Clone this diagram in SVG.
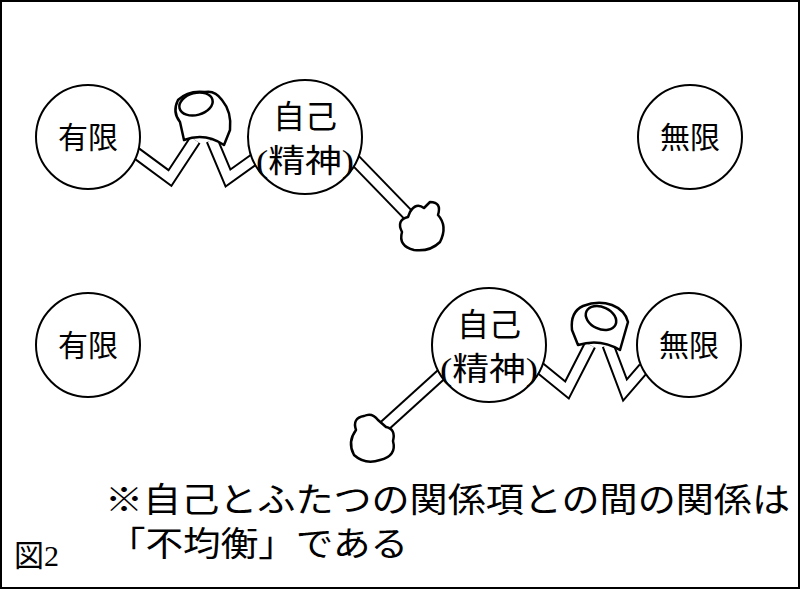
<svg xmlns="http://www.w3.org/2000/svg" width="800" height="589" viewBox="0 0 800 589">
<style>
.c{fill:#fff;stroke:#000;stroke-width:2}
.t{font-family:"Liberation Serif","Noto Sans CJK JP",serif;fill:#000}
.ao{fill:none;stroke:#000;stroke-width:13;stroke-linejoin:miter;stroke-linecap:butt}
.ai{fill:none;stroke:#fff;stroke-width:9;stroke-linejoin:miter;stroke-linecap:butt}
.f{fill:#fff;stroke:#000;stroke-width:2.5;stroke-linejoin:round}
</style>
<rect x="1" y="1" width="798" height="587" fill="#fff" stroke="#000" stroke-width="2"/>
<g id="connectors">
<polyline class="ao" points="132,150 170,178 195,140"/>
<polyline class="ao" points="256,158 228,178 212,140"/>
<polyline class="ao" points="355,160 418,225"/>
<polyline class="ai" points="132,150 170,178 195,140"/>
<polyline class="ai" points="256,158 228,178 212,140"/>
<polyline class="ai" points="355,160 418,225"/>
<path class="f" d="M184,140 L180,122 Q172,112 178,100 Q188,90 205,92 Q215,90 222,100 Q232,112 230,130 L224,145 Q205,132 184,140 Z"/>
<ellipse class="f" cx="196" cy="104" rx="17" ry="11" transform="rotate(-15 196 104)"/>
<path class="f" d="M410,212 Q416,202 424,208 L430,202 Q442,202 438,215 Q448,226 440,242 Q430,252 414,250 Q398,246 402,232 Q396,220 408,217 Z"/>
<polyline class="ao" points="444,372 380,430"/>
<polyline class="ao" points="540,368 567,390 590,345"/>
<polyline class="ao" points="644,368 625,390 608,345"/>
<polyline class="ai" points="444,372 380,430"/>
<polyline class="ai" points="540,368 567,390 590,345"/>
<polyline class="ai" points="644,368 625,390 608,345"/>
<path class="f" d="M578,345 L572,330 Q570,312 583,306 Q598,300 612,305 Q625,310 628,322 L620,350 Q600,338 578,345 Z"/>
<ellipse class="f" cx="601" cy="318" rx="16" ry="11" transform="rotate(25 601 318)"/>
<path class="f" d="M378,420 Q372,412 364,416 Q352,418 356,430 Q347,442 354,455 Q365,465 380,460 Q397,456 393,441 Q396,429 386,427 Z"/>
</g>
<g id="n1"><circle class="c" cx="88" cy="137" r="52"/><text class="t" x="88" y="148" font-size="30" text-anchor="middle">有限</text></g>
<g id="n2"><circle class="c" cx="305" cy="137" r="57"/><text class="t" x="305" y="128" font-size="32" text-anchor="middle">自己</text><text class="t" x="305" y="172" font-size="32" text-anchor="middle" textLength="98" lengthAdjust="spacingAndGlyphs">(精神)</text></g>
<g id="n3"><circle class="c" cx="690" cy="137" r="52"/><text class="t" x="690" y="148" font-size="30" text-anchor="middle">無限</text></g>
<g id="n4"><circle class="c" cx="88" cy="345" r="52"/><text class="t" x="88" y="356" font-size="30" text-anchor="middle">有限</text></g>
<g id="n5"><circle class="c" cx="489" cy="345" r="57"/><text class="t" x="489" y="336" font-size="32" text-anchor="middle">自己</text><text class="t" x="489" y="380" font-size="32" text-anchor="middle" textLength="98" lengthAdjust="spacingAndGlyphs">(精神)</text></g>
<g id="n6"><circle class="c" cx="689" cy="345" r="52"/><text class="t" x="689" y="356" font-size="30" text-anchor="middle">無限</text></g>
<text class="t" x="105" y="512" font-size="34" textLength="685" lengthAdjust="spacingAndGlyphs">※自己とふたつの関係項との間の関係は</text>
<text class="t" x="108" y="556" font-size="34" textLength="300" lengthAdjust="spacingAndGlyphs">「不均衡」である</text>
<text class="t" x="14" y="566" font-size="30">図2</text>
</svg>
